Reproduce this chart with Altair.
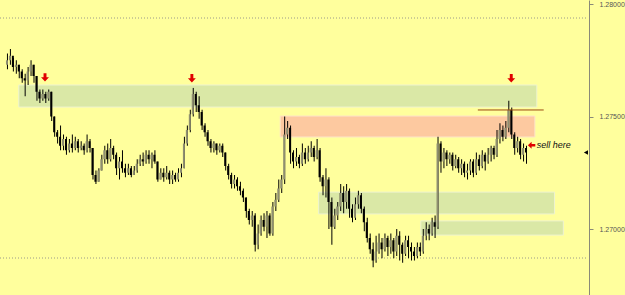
import altair as alt
import pandas as pd

first_open = 1.2773
closes = [
    1.2775,1.2777,1.2772,1.2773,1.2770,1.2767,1.2766,1.2770,1.2773,1.2768,
    1.2761,1.2758,1.2760,1.2758,1.2761,1.2750,1.2743,1.2741,1.2737,1.2740,
    1.2735,1.2738,1.2736,1.2739,1.2736,1.2737,1.2735,1.2739,1.2736,1.2724,
    1.2721,1.2726,1.2731,1.2735,1.2731,1.2736,1.2733,1.2727,1.2730,1.2727,
    1.2725,1.2727,1.2724,1.2726,1.2729,1.2731,1.2730,1.2733,1.2731,1.2733,
    1.2730,1.2722,1.2725,1.2723,1.2725,1.2722,1.2724,1.2722,1.2725,1.2727,
    1.2738,1.2744,1.2751,1.2760,1.2755,1.2752,1.2746,1.2743,1.2739,1.2736,
    1.2738,1.2735,1.2737,1.2734,1.2728,1.2724,1.2720,1.2722,1.2719,1.2717,
    1.2714,1.2708,1.2704,1.2706,1.2693,1.2698,1.2704,1.2701,1.2706,1.2698,
    1.2710,1.2713,1.2718,1.2722,1.2742,1.2745,1.2734,1.2730,1.2732,1.2729,
    1.2734,1.2731,1.2734,1.2736,1.2732,1.2735,1.2723,1.2719,1.2722,1.2712,
    1.2701,1.2706,1.2710,1.2716,1.2712,1.2717,1.2709,1.2705,1.2711,1.2715,
    1.2709,1.2703,1.2696,1.2691,1.2686,1.2690,1.2694,1.2691,1.2696,1.2692,
    1.2695,1.2690,1.2697,1.2693,1.2689,1.2695,1.2692,1.2690,1.2688,1.2692,
    1.2690,1.2697,1.2700,1.2698,1.2703,1.2701,1.2738,1.2730,1.2734,1.2731,
    1.2733,1.2728,1.2731,1.2727,1.2729,1.2725,1.2726,1.2730,1.2725,1.2731,
    1.2728,1.2733,1.2730,1.2733,1.2736,1.2733,1.2740,1.2744,1.2741,1.2745,
    1.2753,1.2742,1.2736,1.2739,1.2733,1.2736,1.2734,
]
highs = [
    1.2778,1.2780,1.2776,1.2775,1.2773,1.2771,1.2769,1.2772,1.2775,1.2773,
    1.2768,1.2762,1.2762,1.2761,1.2762,1.2761,1.2750,1.2744,1.2746,1.2742,
    1.2741,1.2740,1.2742,1.2741,1.2740,1.2739,1.2738,1.2742,1.2740,1.2736,
    1.2726,1.2727,1.2733,1.2737,1.2738,1.2740,1.2737,1.2734,1.2732,1.2735,
    1.2729,1.2729,1.2728,1.2728,1.2731,1.2733,1.2734,1.2735,1.2735,1.2734,
    1.2735,1.2730,1.2727,1.2727,1.2728,1.2726,1.2726,1.2725,1.2727,1.2729,
    1.2741,1.2746,1.2753,1.27627,1.2761,1.2759,1.2753,1.2747,1.2744,1.2740,
    1.2739,1.2738,1.2738,1.2738,1.2734,1.2729,1.2725,1.2724,1.2723,1.2721,
    1.2718,1.2714,1.2709,1.2708,1.2707,1.2702,1.2706,1.2707,1.2708,1.2707,
    1.2712,1.2716,1.2722,1.2724,1.2750,1.2748,1.2746,1.2735,1.2736,1.2733,
    1.2738,1.2736,1.2737,1.2739,1.2737,1.2740,1.2736,1.2724,1.2727,1.2723,
    1.2714,1.2709,1.2712,1.2720,1.2719,1.2720,1.2718,1.2711,1.2714,1.2717,
    1.2716,1.2710,1.2705,1.2698,1.2694,1.2697,1.2698,1.2696,1.2698,1.2697,
    1.2698,1.2696,1.2700,1.2699,1.2694,1.2697,1.2697,1.2694,1.2692,1.2694,
    1.2694,1.2700,1.2703,1.2702,1.2705,1.2706,1.2741,1.2739,1.2736,1.2735,
    1.2734,1.2734,1.2733,1.2732,1.2731,1.2730,1.2729,1.2731,1.2731,1.2734,
    1.2733,1.2735,1.2734,1.2736,1.2737,1.2737,1.2744,1.2747,1.2746,1.2748,
    1.2757,1.2754,1.2743,1.2741,1.2740,1.2738,1.2737,
]
lows = [
    1.2771,1.2773,1.2770,1.2769,1.2767,1.2765,1.2759,1.2764,1.2768,1.2765,
    1.2757,1.2756,1.2757,1.2756,1.2757,1.2748,1.2741,1.2738,1.2735,1.2735,
    1.2733,1.2734,1.2734,1.2735,1.2734,1.2735,1.2733,1.2734,1.2734,1.2722,
    1.2720,1.2721,1.2726,1.2729,1.2729,1.2730,1.2731,1.2724,1.2722,1.2725,
    1.2723,1.2724,1.2723,1.2724,1.2725,1.2728,1.2728,1.2729,1.2729,1.2727,
    1.2729,1.2721,1.2722,1.2721,1.2722,1.2720,1.2720,1.2721,1.2721,1.2723,
    1.2727,1.2737,1.2743,1.2750,1.2752,1.2749,1.2744,1.2741,1.2737,1.2734,
    1.2734,1.2733,1.2734,1.2732,1.2726,1.2722,1.2718,1.2718,1.2717,1.2715,
    1.2712,1.2705,1.2702,1.2701,1.2690,1.2691,1.2697,1.2699,1.2696,1.2697,
    1.2697,1.2708,1.2712,1.2716,1.2720,1.2740,1.2729,1.2727,1.2728,1.2727,
    1.2728,1.2729,1.2730,1.2732,1.2730,1.2731,1.2721,1.2715,1.2714,1.2700,
    1.2693,1.2700,1.2704,1.2708,1.2707,1.2709,1.2705,1.2703,1.2704,1.2709,
    1.2707,1.2699,1.2694,1.2689,1.2683,1.2685,1.2689,1.2687,1.2690,1.2688,
    1.2689,1.2687,1.2688,1.2686,1.2685,1.2688,1.2687,1.2686,1.2686,1.2687,
    1.2688,1.2689,1.2695,1.2695,1.2697,1.2696,1.2700,1.2725,1.2727,1.2728,
    1.2729,1.2726,1.2727,1.2725,1.2724,1.2723,1.2722,1.2724,1.2723,1.2724,
    1.2726,1.2727,1.2726,1.2729,1.2730,1.2731,1.2732,1.2738,1.2739,1.2740,
    1.2743,1.2740,1.2733,1.2734,1.2731,1.2730,1.2729,
]

axis_ticks = [1.27, 1.275, 1.28]
dotted_levels = [1.279378, 1.268711]

zone_x0 = [4.0, 92.67, 105.67, 140.33]
zone_x1 = [179.67, 179.0, 185.67, 188.67]
zone_top = [1.27640, 1.27502, 1.27164, 1.27036]
zone_bot = [1.27542, 1.27409, 1.27067, 1.26973]
zone_kind = ["green", "pink", "green", "green"]

line_x0, line_x1, line_level = 159.67, 182.0, 1.27529

arrow_x = [12.9, 62.7, 171.0]
arrow_y = [1.27674, 1.27670, 1.27670]

sell_x, sell_y = 177.9, 1.27372
sell_text_x = 179.67
sell_label = "sell here"

n = len(closes)
opens = [first_open] + closes[:-1]
candles = pd.DataFrame({
    "i": list(range(n)),
    "open": opens, "close": closes, "high": highs, "low": lows,
})
candles["dir"] = ["up" if c >= o else "down" for o, c in zip(opens, closes)]

BG = "#ffff9d"
xs = alt.Scale(domain=[-0.66667, 195.66667], nice=False, zero=False)
ys = alt.Scale(domain=[1.267067, 1.280178], nice=False, zero=False)
yaxis = alt.Axis(
    orient="right", values=axis_ticks, format=".5f", grid=False,
    tickSize=4, tickColor="#8a8a78", domainColor="#8a8a78", domainWidth=1,
    labelFont="Liberation Sans", labelFontSize=7, labelColor="#555555",
    labelPadding=6, title=None)


def X(field):
    return alt.X(field, scale=xs, axis=None)


def Y(field):
    return alt.Y(field, scale=ys, axis=yaxis)


zones = pd.DataFrame({"x0": zone_x0, "x1": zone_x1, "top": zone_top, "bot": zone_bot, "kind": zone_kind})
zone_layer = alt.Chart(zones).mark_rect(strokeWidth=1).encode(
    x=X("x0:Q"), x2="x1:Q",
    y=Y("top:Q"), y2="bot:Q",
    fill=alt.Fill("kind:N", scale=alt.Scale(domain=["green", "pink"], range=["#dae8a6", "#fdc9a0"]), legend=None),
    stroke=alt.Stroke("kind:N", scale=alt.Scale(domain=["green", "pink"], range=["#eef3cf", "#fde2c8"]), legend=None),
)

dots = pd.DataFrame({"lvl": dotted_levels})
dot_layer = alt.Chart(dots).mark_rule(color="#9a9a8a", strokeDash=[1, 2], strokeWidth=1).encode(
    y=Y("lvl:Q"),
    x=alt.value(0), x2=alt.value(587),
)

wick_layer = alt.Chart(candles).mark_rule(color="#000000", strokeWidth=1, xOffset=0.5).encode(
    x=X("i:Q"), y=Y("low:Q"), y2="high:Q",
)

body_layer = alt.Chart(candles).mark_bar(size=2).encode(
    x=X("i:Q"), y=Y("open:Q"), y2="close:Q",
    color=alt.Color("dir:N", scale=alt.Scale(domain=["up", "down"], range=["#8e8e70", "#000000"]), legend=None),
)

brown = pd.DataFrame({"x0": [line_x0], "x1": [line_x1], "lvl": [line_level]})
brown_layer = alt.Chart(brown).mark_rule(color="#9c4a12", strokeWidth=1).encode(
    x=X("x0:Q"), x2="x1:Q", y=Y("lvl:Q"),
)

down_arrow = "M-0.35,-1 L0.35,-1 L0.35,0 L0.95,0 L0,1 L-0.95,0 L-0.35,0 Z"
left_arrow = "M1,-0.35 L1,0.35 L0,0.35 L0,0.95 L-1,0 L0,-0.95 L0,-0.35 Z"

arrows = pd.DataFrame({"x": arrow_x, "y": arrow_y})
arrow_layer = alt.Chart(arrows).mark_point(shape=down_arrow, size=70, filled=True, color="#e00000", opacity=1).encode(
    x=X("x:Q"), y=Y("y:Q"),
)

sell = pd.DataFrame({"x": [sell_x], "y": [sell_y], "tx": [sell_text_x], "label": [sell_label]})
sell_arrow = alt.Chart(sell).mark_point(shape=left_arrow, size=55, filled=True, color="#e00000", opacity=1).encode(
    x=X("x:Q"), y=Y("y:Q"),
)
sell_text = alt.Chart(sell).mark_text(align="left", baseline="middle", font="Liberation Sans",
                                      fontSize=9, fontStyle="italic", color="#111111").encode(
    x=X("tx:Q"), y=Y("y:Q"), text="label:N",
)

last = pd.DataFrame({"x": [196.33], "y": [closes[-1]]})
marker = alt.Chart(last).mark_point(shape="triangle-left", size=22, filled=True, color="#000000", opacity=1).encode(
    x=X("x:Q"), y=Y("y:Q"),
)

chart = alt.layer(
    zone_layer, dot_layer, wick_layer, body_layer, brown_layer,
    arrow_layer, sell_arrow, sell_text, marker,
).properties(
    width=589, height=295,
    padding={"left": 0, "top": 0, "right": 36, "bottom": 0},
    autosize=alt.AutoSizeParams(type="none"),
).configure(background=BG).configure_view(stroke=None, fill=BG)

chart.save("out.html", embed_options={"renderer": "svg", "actions": False})
